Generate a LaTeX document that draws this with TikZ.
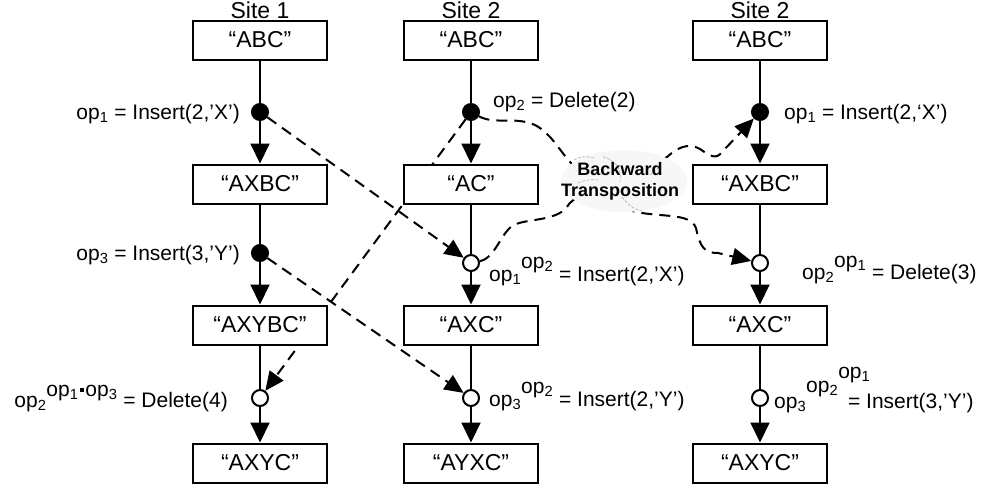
\documentclass[tikz,border=0pt]{standalone}
\usepackage{xcolor}
\usepackage{fontspec}
\setmainfont{Liberation Sans}
\usetikzlibrary{arrows.meta,backgrounds}
\newcommand{\opn}[1]{op\textsubscript{#1}}

\begin{document}
\begin{tikzpicture}[x=1pt,y=-1pt]
\tikzstyle{site} = [anchor=base, inner sep=0pt, font=\fontsize{23}{27}\selectfont]
\tikzstyle{state} = [draw, line width=2pt, fill=white, minimum width=134pt, minimum height=39pt, inner sep=0pt, font=\fontsize{23}{27}\selectfont]
\tikzstyle{genop} = [circle, draw, fill=black, line width=2pt, minimum size=16pt, inner sep=0pt]
\tikzstyle{xop} = [circle, draw, fill=white, line width=2pt, minimum size=16pt, inner sep=0pt]
\tikzstyle{optext} = [inner sep=0pt, font=\fontsize{21}{25}\selectfont]
\tikzstyle{bubble} = [align=center, inner sep=0pt, font=\fontsize{18}{21}\selectfont\bfseries]
\tikzset{link/.style = {line width=2pt}}
\tikzset{edge/.style = {line width=2pt, -{Triangle[length=20pt,width=19pt]}}}
\tikzset{xform/.style = {line width=2pt, dash pattern=on 11pt off 7pt, -{Triangle[length=19pt,width=17pt]}}}
\tikzset{scribble/.style = {gray!55, line width=0.8pt, dash pattern=on 3pt off 1.5pt}}

\useasboundingbox (0,0) rectangle (993,485);

\node[site](site1) at (260,18) {Site 1};
\node[site](site2) at (471,18) {Site 2};
\node[site](site3) at (760,18) {Site 2};

\node[state](s1a) at (260,40) {“ABC”};
\node[state](s2a) at (260,184) {“AXBC”};
\node[state](s3a) at (260,325) {“AXYBC”};
\node[state](s4a) at (260,463) {“AXYC”};
\node[state](s1b) at (471,40) {“ABC”};
\node[state](s2b) at (471,184) {“AC”};
\node[state](s3b) at (471,325) {“AXC”};
\node[state](s4b) at (471,463) {“AYXC”};
\node[state](s1c) at (760,40) {“ABC”};
\node[state](s2c) at (760,184) {“AXBC”};
\node[state](s3c) at (760,325) {“AXC”};
\node[state](s4c) at (760,463) {“AXYC”};

\node[genop](d1a) at (260,112) {};
\node[genop](d2a) at (260,253) {};
\node[xop](d3a) at (260,398) {};
\node[genop](d1b) at (471,112) {};
\node[xop](d2b) at (471,263) {};
\node[xop](d3b) at (471,398) {};
\node[genop](d1c) at (760,112) {};
\node[xop](d2c) at (760,263) {};
\node[xop](d3c) at (760,398) {};

\draw[link](s1a) -- (d1a);
\draw[edge](d1a) -- (s2a);
\draw[link](s2a) -- (d2a);
\draw[edge](d2a) -- (s3a);
\draw[link](s3a) -- (d3a);
\draw[edge](d3a) -- (s4a);
\draw[link](s1b) -- (d1b);
\draw[edge](d1b) -- (s2b);
\draw[link](s2b) -- (d2b);
\draw[edge](d2b) -- (s3b);
\draw[link](s3b) -- (d3b);
\draw[edge](d3b) -- (s4b);
\draw[link](s1c) -- (d1c);
\draw[edge](d1c) -- (s2c);
\draw[link](s2c) -- (d2c);
\draw[edge](d2c) -- (s3c);
\draw[link](s3c) -- (d3c);
\draw[edge](d3c) -- (s4c);

\begin{pgfonlayer}{background}
\draw[xform](d1a) -- (d2b);
\draw[xform](d2a) -- (d3b);
\draw[xform](d1b) -- (d3a);
\draw[xform](d1b) .. controls (495,125) and (515,116) .. (535,125)
  .. controls (552,134) and (560,152) .. (572,164)
  .. controls (590,180) and (610,205) .. (632,211)
  .. controls (660,218) and (690,212) .. (696,228)
  .. controls (700,248) and (705,253) .. (718,253) -- (d2c);
\draw[xform](d2b) .. controls (495,258) and (500,235) .. (512,226)
  .. controls (525,218) and (555,222) .. (567,207)
  .. controls (575,190) and (640,175) .. (667,157)
  .. controls (677,148) and (688,142) .. (700,149)
  .. controls (710,156) and (716,160) .. (722,152) -- (d1c);
\end{pgfonlayer}

\fill[gray!6] (624,181) ellipse [x radius=63pt, y radius=31pt];
\draw[scribble] (574,160) .. controls (580,156) and (588,156) .. (594,158);
\draw[scribble] (603,157) .. controls (615,160) and (622,168) .. (620,182);
\draw[scribble] (578,183) .. controls (585,180) and (592,179) .. (598,180);
\draw[scribble] (622,197) .. controls (628,205) and (635,210) .. (642,211);
\draw[scribble] (650,175) .. controls (655,171) and (658,168) .. (661,165);
\node[bubble](bt) at (620,181) {Backward\\Transposition};

\node[optext, anchor=base east](t1a) at (240,119) {\opn{1} = Insert(2,’X’)};
\node[optext, anchor=base west](t1b) at (493,107) {\opn{2} = Delete(2)};
\node[optext, anchor=base west](t1c) at (784,119) {\opn{1} = Insert(2,‘X’)};
\node[optext, anchor=base east](t2a) at (240,260) {\opn{3} = Insert(3,’Y’)};
\node[optext, anchor=base west](t2b) at (489,281) {\opn{1}\raisebox{13pt}{\opn{2}} = Insert(2,’X’)};
\node[optext, anchor=base west](t2c) at (802,279) {\opn{2}\raisebox{12pt}{\opn{1}} = Delete(3)};
\node[optext, anchor=base east](t3a) at (228,407) {\opn{2}\raisebox{11pt}{\opn{1}\kern1.5pt\rule[4pt]{4pt}{4pt}\kern1.5pt\opn{3}} = Delete(4)};
\node[optext, anchor=base west](t3b) at (489,406) {\opn{3}\raisebox{13pt}{\opn{2}} = Insert(2,’Y’)};
\node[optext, anchor=base west](t3c) at (774,408) {\opn{3}\raisebox{16pt}{\opn{2}\rlap{\raisebox{14pt}{\opn{1}}}}\hspace{4pt} = Insert(3,’Y’)};
\end{tikzpicture}
\end{document}
